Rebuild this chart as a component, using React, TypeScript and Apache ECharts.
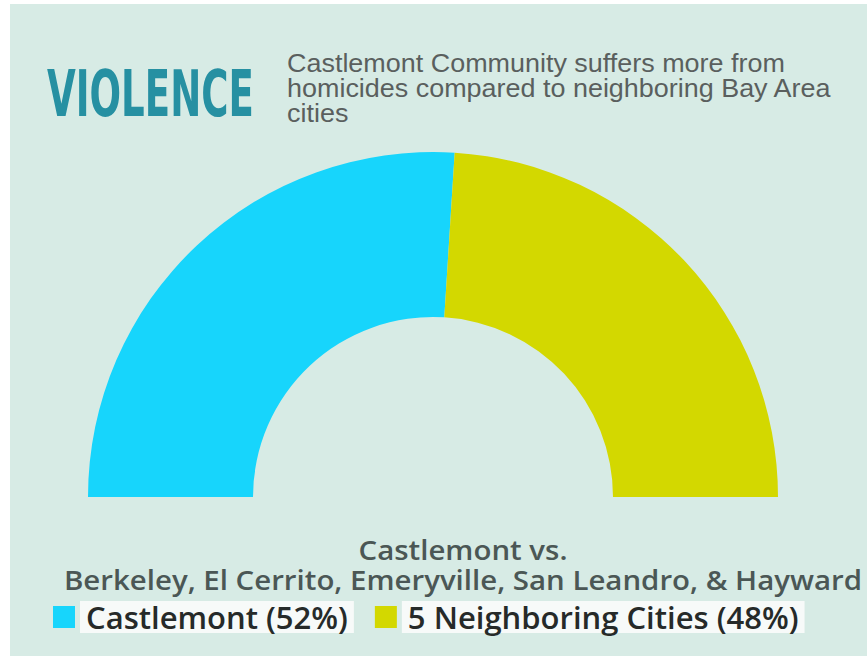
import React, { useEffect, useRef } from "react";
import * as echarts from "echarts";

const categories = ["Castlemont", "5 Neighboring Cities"];
const shares = [52, 48];
const colors = ["#17d5fc", "#d3d800"];
const titleText = "VIOLENCE";
const subtitleLines = [
  "Castlemont Community suffers more from",
  "homicides compared to neighboring Bay Area",
  "cities",
];
const captionLines = [
  "Castlemont vs.",
  "Berkeley, El Cerrito, Emeryville, San Leandro, & Hayward",
];

export default function App() {
  const ref = useRef<HTMLDivElement>(null);
  useEffect(() => {
    if (!ref.current) return;
    const chart = echarts.init(ref.current, undefined, { renderer: "svg" });
    const pctMap: Record<string, number> = {};
    categories.forEach((c, i) => (pctMap[c] = shares[i]));
    chart.setOption({
      animation: false,
      backgroundColor: "#ffffff",
      graphic: [
        {
          type: "rect",
          shape: { x: 10, y: 4, width: 857, height: 652 },
          style: { fill: "#d7ebe5" },
          z: -10,
        },
        {
          type: "text",
          x: 47,
          y: 62,
          scaleX: 0.645,
          style: {
            text: titleText,
            font: 'bold 64px "Liberation Sans Narrow", "DejaVu Sans Condensed", sans-serif',
            fill: "#2690a2",
          },
        },
        {
          type: "text",
          x: 287,
          y: 51,
          scaleX: 1.036,
          style: {
            text: subtitleLines.join("\n"),
            font: '26px "Liberation Sans", Arial, sans-serif',
            lineHeight: 25,
            fill: "#5a5f5e",
          },
        },
        {
          type: "text",
          x: 463,
          y: 534,
          scaleX: 1.09,
          style: {
            text: captionLines.join("\n"),
            font: '600 27px "Open Sans", Lato, sans-serif',
            lineHeight: 30,
            fill: "#4b5755",
            align: "center",
          },
        },
      ],
      legend: {
        left: 48,
        top: 596,
        icon: "rect",
        itemWidth: 22,
        itemHeight: 22,
        itemGap: 21,
        selectedMode: false,
        data: categories,
        formatter: (name: string) => `${name} (${pctMap[name]}%)`,
        textStyle: {
          fontFamily: '"Open Sans", Lato, sans-serif',
          fontWeight: 600,
          fontSize: 31,
          lineHeight: 30,
          color: "#262a29",
          backgroundColor: "#f7faf9",
          padding: [1, 6, 1, 6],
        },
      },
      series: [
        {
          type: "pie",
          center: [433, 497],
          radius: [180, 345],
          startAngle: 180,
          endAngle: 0,
          clockwise: true,
          silent: true,
          label: { show: false },
          labelLine: { show: false },
          emphasis: { disabled: true },
          itemStyle: { borderWidth: 0 },
          data: categories.map((c, i) => ({
            name: c,
            value: shares[i],
            itemStyle: { color: colors[i] },
          })),
        },
      ],
    });
    return () => chart.dispose();
  }, []);
  return (
    <div
      ref={ref}
      style={{ position: "fixed", left: 0, top: 0, width: 867, height: 656 }}
    />
  );
}
